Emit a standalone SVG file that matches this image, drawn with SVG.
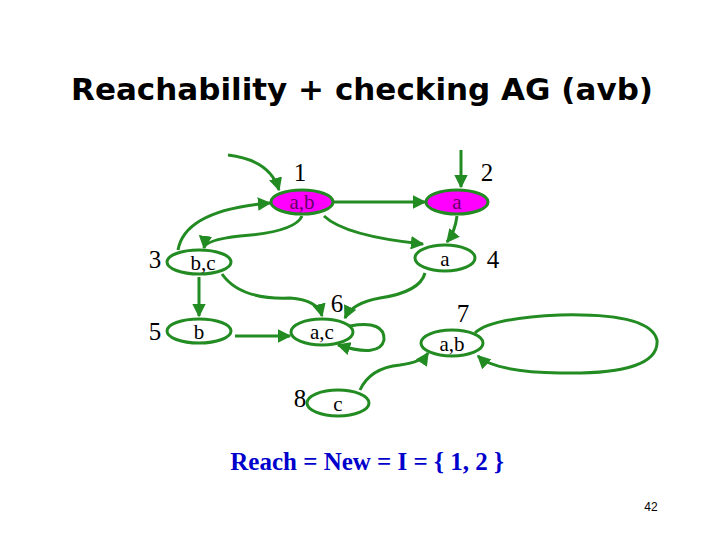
<svg xmlns="http://www.w3.org/2000/svg" width="720" height="540" viewBox="0 0 720 540">
<style>
.n{fill:#fff;stroke:#228b22;stroke-width:3}
.m{fill:#ff00ff;stroke:#228b22;stroke-width:3}
.t{font-family:"Liberation Serif",serif;font-size:21px;text-anchor:middle}
.l{font-family:"Liberation Serif",serif;font-size:25px;text-anchor:middle}
.e{fill:none;stroke:#228b22;stroke-width:3;marker-end:url(#a)}
</style>
<defs><marker id="a" viewBox="0 0 10 10" refX="9" refY="5" markerWidth="4.5" markerHeight="4.5" orient="auto"><path d="M0,0L10,5L0,10z" fill="#228b22"/></marker></defs>
<rect width="720" height="540" fill="#fff"/>
<text x="362" y="100" font-family="'DejaVu Sans',sans-serif" font-weight="bold" font-size="30" text-anchor="middle" textLength="582" lengthAdjust="spacingAndGlyphs">Reachability + checking AG (avb)</text>
<g id="edges">
<path class="e" d="M228,155 Q270,160 279,190"/>
<path class="e" d="M461,150 L461,187"/>
<path class="e" d="M334,202 L425,202"/>
<path class="e" d="M457,216 Q455,232 447,242"/>
<path class="e" d="M324,216 Q345,236 423,244"/>
<path class="e" d="M302,216 Q295,232 240,236 Q205,240 204,248"/>
<path class="e" d="M178,250 Q185,210 270,203"/>
<path class="e" d="M199,277 L199,316"/>
<path class="e" d="M222,274 Q240,300 290,298 Q318,300 322,316"/>
<path class="e" d="M425,273 Q420,292 380,298 Q352,303 345,318"/>
<path class="e" d="M235,336 L290,336"/>
<path class="e" d="M350,326 Q385,320 384,340 Q380,358 338,345"/>
<path class="e" d="M360,390 Q370,368 400,365 Q422,362 428,353"/>
<path class="e" d="M475,333 Q490,318 560,315 Q650,313 657,340 Q660,375 560,373 Q495,372 478,356"/>
</g>
<g id="n1"><ellipse class="m" cx="302" cy="202" rx="31" ry="12"/><text class="t" x="302" y="209" fill="#606">a,b</text><text class="l" x="300" y="181">1</text></g>
<g id="n2"><ellipse class="m" cx="457" cy="202" rx="31" ry="12"/><text class="t" x="457" y="209" fill="#606">a</text><text class="l" x="487" y="181">2</text></g>
<g id="n3"><ellipse class="n" cx="199" cy="262" rx="32" ry="12"/><text class="t" x="203" y="270">b,c</text><text class="l" x="155" y="268">3</text></g>
<g id="n4"><ellipse class="n" cx="445" cy="258" rx="30" ry="13"/><text class="t" x="445" y="266">a</text><text class="l" x="493" y="268">4</text></g>
<g id="n5"><ellipse class="n" cx="199" cy="331" rx="32" ry="12"/><text class="t" x="199" y="339">b</text><text class="l" x="155" y="340">5</text></g>
<g id="n6"><ellipse class="n" cx="322" cy="332" rx="31" ry="13"/><text class="t" x="322" y="339">a,c</text><text class="l" x="337" y="312">6</text></g>
<g id="n7"><ellipse class="n" cx="452" cy="343" rx="31" ry="13"/><text class="t" x="452" y="351">a,b</text><text class="l" x="463" y="322">7</text></g>
<g id="n8"><ellipse class="n" cx="338" cy="403" rx="31" ry="13"/><text class="t" x="338" y="411">c</text><text class="l" x="300" y="407">8</text></g>
<text x="367" y="470" font-family="'Liberation Serif',serif" font-weight="bold" font-size="25" fill="#0000cc" text-anchor="middle">Reach = New = I = { 1, 2 }</text>
<text x="651" y="511" font-family="'Liberation Sans',sans-serif" font-size="12" text-anchor="middle">42</text>
</svg>
